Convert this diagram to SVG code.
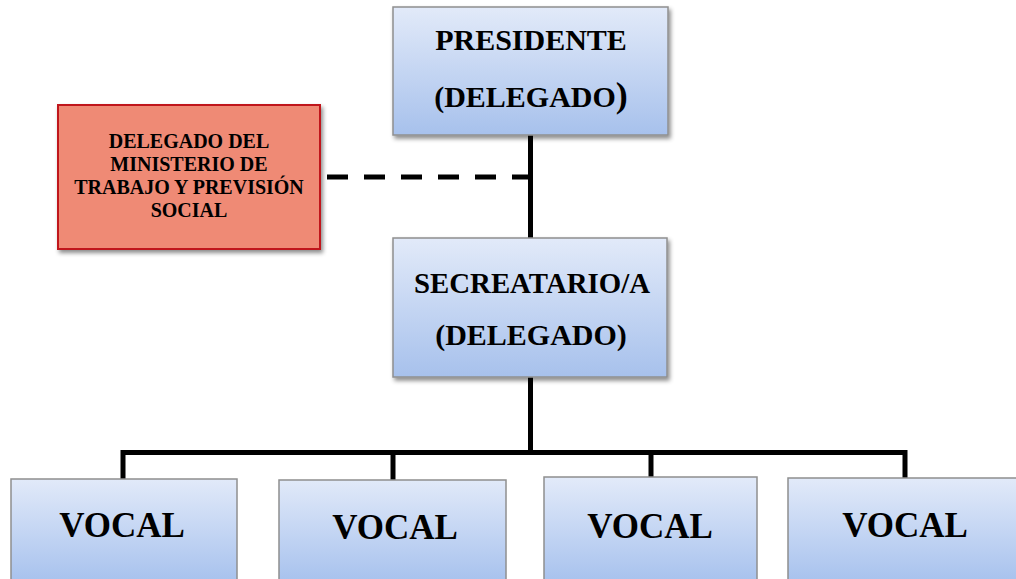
<svg xmlns="http://www.w3.org/2000/svg" width="1016" height="579" viewBox="0 0 1016 579">
<defs>
<linearGradient id="blue" x1="0" y1="0" x2="0" y2="1">
<stop offset="0" stop-color="#e2eaf9"/>
<stop offset="1" stop-color="#a7c1ec"/>
</linearGradient>
<linearGradient id="blueTall" gradientUnits="userSpaceOnUse" x1="0" y1="478" x2="0" y2="579">
<stop offset="0" stop-color="#e2eaf9"/>
<stop offset="1" stop-color="#a9c3ee"/>
</linearGradient>
<filter id="sh" x="-10%" y="-10%" width="125%" height="130%">
<feDropShadow dx="2" dy="3" stdDeviation="2" flood-color="#000" flood-opacity="0.45"/>
</filter>
</defs>
<style>
.box{fill:url(#blue);stroke:#8f8f8f;stroke-width:1.5;filter:url(#sh)}
.vbox{fill:url(#blueTall);stroke:#8f8f8f;stroke-width:1.5}
.red{fill:#ef8a75;stroke:#c0141a;stroke-width:2;filter:url(#sh)}
text{font-family:"Liberation Serif","Times New Roman",serif;font-weight:bold;fill:#000;text-anchor:middle}
.big{font-size:30px}
.small{font-size:20px}
.vocal{font-size:35px}
.line{stroke:#000;stroke-width:5;fill:none}
.dash{stroke:#000;stroke-width:5;fill:none;stroke-dasharray:21 16}
</style>
<rect width="1016" height="579" fill="#fff"/>
<g id="connectors">
<line class="line" x1="530.5" y1="135" x2="530.5" y2="238"/>
<line class="dash" x1="327" y1="177" x2="530" y2="177"/>
<line class="line" x1="530.5" y1="377" x2="530.5" y2="452"/>
<polyline class="line" points="123,479 123,452.5 905,452.5 905,478"/>
<line class="line" x1="393" y1="452" x2="393" y2="480"/>
<line class="line" x1="651" y1="452" x2="651" y2="477"/>
</g>
<g id="presidente">
<rect class="box" x="393" y="7" width="275" height="128"/>
<text class="big" x="531" y="50">PRESIDENTE</text>
<text class="big" x="531" y="107">(DELEGADO<tspan font-size="36">)</tspan></text>
</g>
<g id="delegado-ministerio">
<rect class="red" x="58" y="105" width="262" height="144"/>
<text class="small" x="189" y="148">DELEGADO DEL</text>
<text class="small" x="189" y="171">MINISTERIO DE</text>
<text class="small" x="189" y="194">TRABAJO Y PREVISIÓN</text>
<text class="small" x="189" y="217">SOCIAL</text>
</g>
<g id="secretario">
<rect class="box" x="393" y="238" width="274" height="139"/>
<text class="big" x="532" y="293" textLength="236" lengthAdjust="spacingAndGlyphs">SECREATARIO/A</text>
<text class="big" x="531" y="345">(DELEGADO)</text>
</g>
<g id="vocal1">
<rect class="vbox" x="11" y="479" width="226" height="120"/>
<text class="vocal" x="122" y="537">VOCAL</text>
</g>
<g id="vocal2">
<rect class="vbox" x="279" y="480" width="227" height="120"/>
<text class="vocal" x="395" y="539">VOCAL</text>
</g>
<g id="vocal3">
<rect class="vbox" x="544" y="477" width="213" height="120"/>
<text class="vocal" x="650" y="538">VOCAL</text>
</g>
<g id="vocal4">
<rect class="vbox" x="788" y="478" width="240" height="120"/>
<text class="vocal" x="905" y="537">VOCAL</text>
</g>
</svg>
